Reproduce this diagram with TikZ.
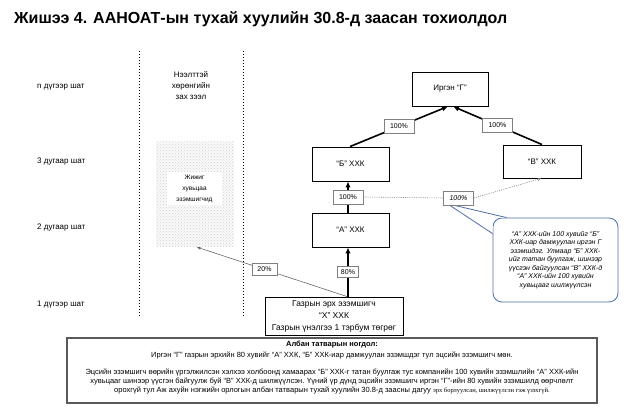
\documentclass[tikz,border=0pt]{standalone}
\usepackage{fontspec}
\setmainfont{Liberation Sans}
\newfontfamily\serifcyr{Liberation Serif}
\usetikzlibrary{arrows.meta,patterns,calc}
\definecolor{callblue}{RGB}{79,111,168}
\definecolor{lblgray}{RGB}{128,128,128}
\tikzset{
  box/.style={draw, line width=0.9pt, fill=white, inner sep=0pt,
    font=\fontsize{8}{10}\selectfont},
  pct/.style={draw=lblgray, line width=0.6pt, fill=white, inner sep=0pt,
    minimum width=30, minimum height=14, font=\fontsize{7}{8}\selectfont},
  lvl/.style={anchor=west, inner sep=0pt, font=\fontsize{8}{10}\selectfont},
  heavy/.style={line width=1.6pt, -{Latex[length=6pt,width=5.5pt]}},
  thinarrow/.style={draw=gray!80!black, line width=0.6pt, -{Stealth[length=4pt,width=3pt]}},
  dotline/.style={draw=gray, line width=0.6pt, dash pattern=on 1pt off 1.2pt},
  vdash/.style={line width=0.6pt, dash pattern=on 1.5pt off 1.5pt},
  bodytext/.style={inner sep=0pt, font=\fontsize{7.5}{9}\selectfont}
}
\begin{document}
\begin{tikzpicture}[x=1pt,y=-1pt]
\useasboundingbox (0,0) rectangle (641,419);

% title
\node[anchor=west, inner sep=0pt, font=\bfseries\fontsize{16}{18}\selectfont] (title) at (14,19)
  {Жишээ 4. ААНОАТ-ын тухай хуулийн 30.8-д заасан тохиолдол};

% level labels
\node[lvl] (s4) at (37,87) {n дүгээр шат};
\node[lvl] (s3) at (37,162) {3 дугаар  шат};
\node[lvl] (s2) at (37,228) {2 дугаар  шат};
\node[lvl] (s1) at (37,305) {1 дүгээр шат};

% dashed vertical lines
\coordinate (d1t) at (139,51); \coordinate (d1b) at (139,317);
\coordinate (d2t) at (243,51); \coordinate (d2b) at (243,317);
\draw[vdash] (d1t) -- (d1b);
\draw[vdash] (d2t) -- (d2b);

\node[align=center, inner sep=0pt, font=\fontsize{8}{11}\selectfont] (mkt) at (191,86)
  {Нээлттэй\\хөрөнгийн\\зах зээл};

% small shareholders
\node[fill=gray!5, postaction={pattern=crosshatch dots, pattern color=gray!35}, minimum width=78, minimum height=105, inner sep=0pt] (sh) at (195,194.5) {};
\node[fill=white, minimum width=55, minimum height=33, inner sep=0pt, align=center, font=\fontsize{6.5}{11}\selectfont] (shl) at (194.5,188.5)
  {Жижиг\\хувьцаа\\эзэмшигчид};

% company boxes
\node[box, minimum width=76, minimum height=34] (G) at (450,89) {Иргэн “Г”};
\node[box, minimum width=77, minimum height=34] (B) at (350.5,164) {“Б” ХХК};
\node[box, minimum width=78, minimum height=33] (V) at (542,161.5) {“В” ХХК};
\node[box, minimum width=77, minimum height=34] (A) at (350.5,230) {“А” ХХК};
\node[box, minimum width=138, minimum height=38, align=center, font=\fontsize{8.5}{12}\selectfont] (X) at (334,316)
  {Газрын эрх эзэмшигч\\“Х” ХХК\\Газрын үнэлгээ 1 тэрбум төгрөг};

% ownership arrows
\draw[heavy] ([xshift=-0.5]B.north) -- node[pct] (p1) {100\%} ([xshift=-2]G.south);
\draw[heavy] (V.north) -- node[pct] (p2) {100\%} ([xshift=3]G.south);
\draw[heavy] ([xshift=-2.5]A.north) -- node[pct] (p3) {100\%} ([xshift=-2.5]B.south);
\draw[heavy] ([xshift=14]X.north) -- node[pct, minimum width=21, minimum height=11] (p5) {80\%} ([xshift=-2.5]A.south);
\draw[thinarrow] ([xshift=13]X.north) -- node[pct, pos=0.55, minimum width=25, minimum height=12] (p6) {20\%} ([xshift=2]sh.south);

% callout
\node[draw=callblue, line width=0.8pt, rounded corners=9pt, fill=white, minimum width=125, minimum height=84, inner sep=0pt,
  align=center, font=\itshape\fontsize{7}{8.5}\selectfont] (C) at (555.5,260)
  {“А” ХХК-ийн 100 хувийг “Б”\\ХХК-иар дамжуулан иргэн Г\\эзэмшдэг. Улмаар “Б” ХХК-\\ийг татан буулгаж, шинээр\\үүсгэн байгуулсан “В” ХХК-д\\“А” ХХК-ийн 100 хувийн\\хувьцааг шилжүүлсэн};
\coordinate (cp1) at ($(C.north west)+(0,16)$);
\coordinate (cp2) at ($(C.north west)+(14,0)$);
\coordinate (t1) at (450,205.5);
\coordinate (t2) at (455,205.5);
\fill[white] (t1) -- (cp1) -- ($(C.north west)+(0.4,0.4)$) -- (cp2) -- (t2) -- cycle;
\draw[callblue, line width=0.8pt] (t1) -- (cp1);
\draw[callblue, line width=0.8pt] (t2) -- (cp2);

% transfer (dotted)
\node[pct, font=\itshape\fontsize{7}{8}\selectfont] (p4) at (458.5,198) {100\%};
\draw[dotline] (p3.east) -- (p4.west);
\draw[dotline, -{Stealth[length=3.5pt,width=3pt]}] (p4.east) -- ([xshift=-1]V.south);

% note box
\node[draw=gray!70!black, line width=1.2pt, minimum width=530, minimum height=65, inner sep=0pt] (N) at (332,370.5) {};
\node[inner sep=0pt, font=\bfseries\fontsize{7.5}{9}\selectfont] (n0) at (332,345) {Албан татварын ногдол:};
\node[bodytext] (n1) at (332,355) {Иргэн “Г” газрын эрхийн  80 хувийг  “А” ХХК, “Б” ХХК-иар дамжуулан эзэмшдэг тул эцсийн  эзэмшигч  мөн.};
\node[bodytext] (n2) at (332,372) {Эцсийн эзэмшигч өөрийн үргэлжилсэн хэлхээ холбоонд хамаарах “Б” ХХК-г татан буулгаж тус компанийн  100 хувийн  эзэмшлийн  “А” ХХК-ийн};
\node[bodytext] (n3) at (332,381) {хувьцааг шинээр үүсгэн байгуулж буй “В” ХХК-д шилжүүлсэн.  Үүний үр дүнд эцсийн эзэмшигч иргэн “Г”-ийн 80 хувийн  эзэмшилд  өөрчлөлт};
\node[bodytext] (n4) at (332,390) {орохгүй тул Аж ахуйн нэгжийн  орлогын албан татварын тухай хуулийн  30.8-д заасны дагуу {\serifcyr\fontsize{6.5}{9}\selectfont эрх борлуулсан, шилжүүлсэн гэж үзэхгүй.}};
\end{tikzpicture}
\end{document}
